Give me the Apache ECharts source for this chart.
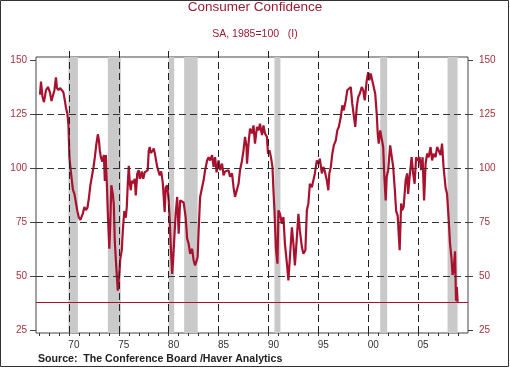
<!DOCTYPE html>
<html>
<head>
<meta charset="utf-8">
<script src="https://cdn.jsdelivr.net/npm/echarts@6/dist/echarts.min.js"></script>
<style>html,body{margin:0;padding:0;background:#fff}#c{width:510px;height:368px}</style>
</head>
<body>
<div id="c"></div>
<script>
const dates = [1967.1,1967.2,1967.35,1967.5,1967.7,1967.9,1968.1,1968.25,1968.4,1968.55,1968.7,1968.8,1968.95,1969.1,1969.3,1969.45,1969.6,1969.7,1969.85,1969.95,1970.05,1970.15,1970.25,1970.4,1970.55,1970.7,1970.85,1971.0,1971.15,1971.3,1971.4,1971.55,1971.7,1971.85,1972.0,1972.15,1972.3,1972.45,1972.6,1972.75,1972.9,1973.0,1973.1,1973.2,1973.35,1973.5,1973.6,1973.7,1973.8,1973.9,1974.05,1974.15,1974.25,1974.4,1974.5,1974.6,1974.75,1974.9,1975.05,1975.15,1975.3,1975.4,1975.55,1975.7,1975.8,1975.9,1976.0,1976.1,1976.2,1976.3,1976.45,1976.6,1976.7,1976.85,1977.0,1977.1,1977.2,1977.3,1977.45,1977.6,1977.75,1977.9,1978.0,1978.1,1978.2,1978.3,1978.4,1978.5,1978.6,1978.75,1978.85,1979.0,1979.1,1979.25,1979.4,1979.5,1979.6,1979.7,1979.85,1980.0,1980.1,1980.2,1980.35,1980.45,1980.55,1980.7,1980.85,1981.0,1981.15,1981.35,1981.5,1981.7,1981.85,1982.0,1982.15,1982.35,1982.5,1982.65,1982.8,1982.9,1983.0,1983.15,1983.35,1983.5,1983.65,1983.85,1984.0,1984.15,1984.35,1984.5,1984.65,1984.8,1984.95,1985.0,1985.15,1985.35,1985.5,1985.65,1985.85,1986.0,1986.15,1986.35,1986.5,1986.65,1986.85,1987.0,1987.15,1987.35,1987.5,1987.65,1987.8,1987.85,1988.0,1988.15,1988.35,1988.5,1988.65,1988.85,1989.0,1989.15,1989.35,1989.5,1989.65,1989.85,1989.95,1990.1,1990.25,1990.4,1990.5,1990.6,1990.75,1990.9,1991.0,1991.15,1991.35,1991.5,1991.65,1991.85,1992.0,1992.15,1992.35,1992.5,1992.65,1992.85,1993.0,1993.15,1993.35,1993.5,1993.7,1993.85,1994.0,1994.15,1994.35,1994.5,1994.65,1994.85,1995.0,1995.15,1995.35,1995.5,1995.65,1995.85,1996.0,1996.1,1996.25,1996.4,1996.55,1996.75,1996.9,1997.05,1997.25,1997.4,1997.55,1997.75,1997.9,1998.05,1998.25,1998.4,1998.55,1998.7,1998.85,1999.0,1999.15,1999.35,1999.5,1999.65,1999.85,2000.0,2000.1,2000.25,2000.4,2000.55,2000.7,2000.85,2000.95,2001.05,2001.2,2001.35,2001.5,2001.6,2001.75,2001.85,2002.0,2002.2,2002.35,2002.5,2002.65,2002.8,2002.95,2003.15,2003.3,2003.4,2003.55,2003.75,2003.9,2004.0,2004.15,2004.35,2004.5,2004.65,2004.8,2004.95,2005.15,2005.3,2005.45,2005.6,2005.75,2005.9,2006.05,2006.25,2006.4,2006.55,2006.75,2006.9,2007.05,2007.25,2007.4,2007.55,2007.75,2007.9,2008.05,2008.2,2008.35,2008.45,2008.55,2008.65,2008.7,2008.8,2008.88,2008.96];
const values = [134,140,133,130.5,136,137.5,135,131,130.5,136,142,137,136,137,136,135,131,128,125,120,105,100,96,90,88,84,80,77,76,76.5,79,82,80.5,81.5,86,92,96,100,105,111,115.6,113,108,105,103,106,94,106,93,79,62.6,75,92,88,83,66,54,43.2,51,58,62,71,80,77,82,92.7,101,93,89.7,94,93,95,87.3,97.5,99,95,96,98.4,95,98,98.4,99,108,109.7,107,106.6,108,109,107,106.6,100.5,101.2,96.6,98.4,93.5,86.6,79.6,91,92,85,76,65,51,58,66.5,78.8,86.6,69.6,85,85.8,84,77.3,67.3,65,60.3,62.6,57.2,54.9,55.5,58.7,71,86.6,91.1,94.3,99,103.5,105,103.5,105.9,100.5,105,98,97.5,103.5,99,102,96.6,98.4,97.5,99,96,97.5,91.1,86.6,85.8,92.7,99,103.5,108.2,114.4,110,102,111.3,118.2,116,119.7,111.3,119,117.4,120.5,115.2,119.7,116,114.4,106.6,108.2,105,100.5,89.7,80.4,62.6,55.7,80.4,78.8,74.2,77.3,65,55.7,48,58.7,72.5,65,54.9,68,78.8,71,63.4,60.3,61.9,80.4,83.6,92.7,91.1,92,97.5,103.5,102,104.3,97.5,100.5,98.4,94.3,89.7,97.5,100.5,106.6,110.5,112.8,117.4,119,123.6,129,126.7,131.3,136,136.7,137.5,129.8,124.4,119,128.3,132.9,134.4,137.5,136,131.3,140.6,144.4,140.6,143.7,140.6,141.3,134.4,125.2,116,111.3,117.4,116.6,109.7,97.5,85,96,99,110.5,109.7,100.5,91.1,80,78,61.9,83.6,80.4,82,94.3,97.5,88,96,105,97.5,92.7,105,103.5,105,99,105,85,102,106.6,105,109.7,103.5,106.6,105,109.7,108.2,106,111.3,100.5,91.1,88,77.3,65,58,50.5,52,58.5,61.4,38.5,44.9,38];
const recessions = [[1969.95,1970.9],[1973.9,1975.2],[1980.0,1980.55],[1981.55,1982.9],[1990.6,1991.2],[2001.2,2001.9],[2007.95,2008.95]];
const yTicks = [25,50,75,100,125,150];
const yGridLines = [50,75,100,125];
const xMajor = [1970,1975,1980,1985,1990,1995,2000,2005];
const xLabels = ['70','75','80','85','90','95','00','05'];
const xMinorYears = [1967,1968,1969,1970,1971,1972,1973,1974,1975,1976,1977,1978,1979,1980,1981,1982,1983,1984,1985,1986,1987,1988,1989,1990,1991,1992,1993,1994,1995,1996,1997,1998,1999,2000,2001,2002,2003,2004,2005,2006,2007,2008,2009];

const XMIN = 1966.7, XMAX = 2010.0;
const RED = '#a8122f';
const LABEL_RED = '#a3333f';
const FONT = 'Liberation Sans, Arial, sans-serif';

const chart = echarts.init(document.getElementById('c'), null, {renderer:'canvas'});
const pairs = dates.map((d,i)=>[d, values[i]]);
const lastVal = values[values.length-1];

const option = {
  animation:false,
  backgroundColor:'#fff',
  textStyle:{fontFamily:FONT},
  title:[
    {text:'Consumer Confidence', left:'center', top:0, padding:0, textStyle:{color:'#9b1b30', fontSize:13.5, fontWeight:'normal', fontFamily:FONT}},
    {text:'SA, 1985=100   (I)', left:'center', top:28.5, padding:0, textStyle:{color:'#9b1b30', fontSize:10.5, fontWeight:'normal', fontFamily:FONT}},
    {text:'Source:  The Conference Board /Haver Analytics', left:38, top:353.5, padding:0, textStyle:{color:'#222', fontSize:10.6, fontWeight:'bold', fontFamily:FONT}}
  ],
  grid:[
    {left:36, right:42, top:57, bottom:35, show:true, borderColor:'#444', borderWidth:1, backgroundColor:'rgba(0,0,0,0)'},
    {left:36, right:42, top:60, bottom:38}
  ],
  xAxis:[
    {gridIndex:0, type:'value', min:XMIN, max:XMAX,
     axisLine:{show:false},
     axisTick:{show:true, customValues:xMinorYears, length:3, lineStyle:{color:'#333'}},
     axisLabel:{show:true, customValues:xMajor.map(v=>v+0.5), formatter:(v)=>{const i=xMajor.indexOf(Math.round(v-0.5)); return i>=0?xLabels[i]:'';}, color:'#333', fontSize:10, margin:7, fontFamily:FONT},
     splitLine:{show:false}},
    {gridIndex:0, type:'value', min:XMIN, max:XMAX,
     axisLine:{show:false},
     axisTick:{show:true, customValues:xMajor, length:6, lineStyle:{color:'#222'}},
     axisLabel:{show:false}, splitLine:{show:false}},
    {gridIndex:1, type:'value', min:XMIN, max:XMAX, show:false}
  ],
  yAxis:[
    {gridIndex:0, type:'value', min:0, max:1, show:false},
    {gridIndex:1, type:'value', min:25, max:150, interval:25, position:'left',
     axisLine:{show:false},
     axisTick:{show:true, length:6, lineStyle:{color:'#444'}},
     axisLabel:{color:LABEL_RED, fontSize:10, margin:9, fontFamily:FONT},
     splitLine:{show:false}},
    {gridIndex:1, type:'value', min:25, max:150, interval:25, position:'right',
     axisLine:{show:false},
     axisTick:{show:true, length:5, lineStyle:{color:'#444'}},
     axisLabel:{color:LABEL_RED, fontSize:10, margin:11, fontFamily:FONT},
     splitLine:{show:false}}
  ],
  series:[
    {type:'line', xAxisIndex:0, yAxisIndex:0, data:[[1980,0.5]], showSymbol:false, symbol:'none', lineStyle:{opacity:0}, silent:true, z:1,
     markArea:{silent:true, itemStyle:{color:'#c9c9c9'}, data:recessions.map(r=>[{xAxis:r[0]},{xAxis:r[1]}])},
     markLine:{silent:true, symbol:'none', label:{show:false}, lineStyle:{color:'#222', width:1, type:[7,4]}, emphasis:{disabled:true},
       data:xMajor.map(v=>({xAxis:v}))}
    },
    {type:'line', xAxisIndex:2, yAxisIndex:1, data:pairs, showSymbol:false, symbol:'none', z:3,
     lineStyle:{color:RED, width:2.2}, itemStyle:{color:RED},
     markLine:{silent:true, symbol:'none', label:{show:false}, emphasis:{disabled:true},
       data:yGridLines.map(v=>({yAxis:v, lineStyle:{color:'#333', width:1, type:[7,4]}}))
         .concat([{yAxis:lastVal, lineStyle:{color:RED, width:1, type:'solid'}}])}
    }
  ],
  graphic:[
    {type:'rect', shape:{x:0.5, y:0.5, width:508, height:366}, style:{fill:'none', stroke:'#333', lineWidth:1}, silent:true, z:100}
  ]
};
chart.setOption(option);
</script>
</body>
</html>
